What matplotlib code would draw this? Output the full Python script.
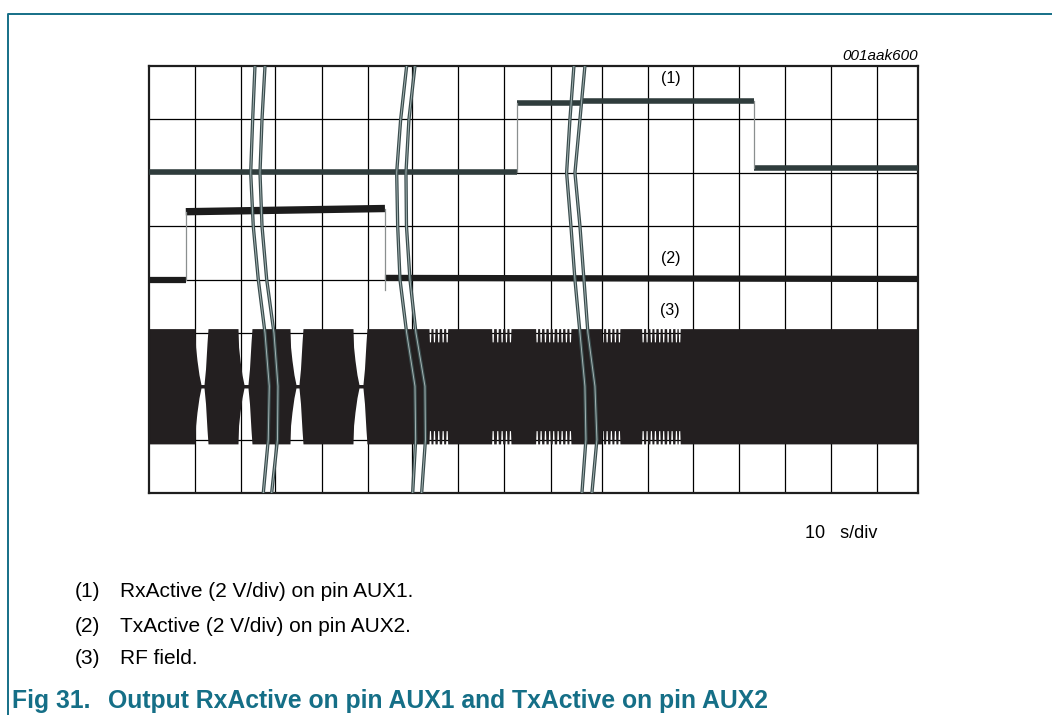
import numpy as np
import matplotlib
matplotlib.use('Agg')
import matplotlib.pyplot as plt
from matplotlib.lines import Line2D

plt.rcParams['font.family'] = ['Liberation Sans', 'DejaVu Sans']

W, H = 1052, 715

# --- grille (en divisions horizontales / verticales) ---
GRID_X = [1.0, 2.0, 2.739, 3.761, 4.761, 5.717, 6.717, 7.717, 8.739,
          9.848, 10.848, 11.826, 12.826, 13.826, 14.826, 15.826]
GRID_Y = [1, 2, 3, 4, 5, 6, 7]
X_MAX = 16.72
Y_MAX = 8

# --- trace (1) RxActive : segments (debut, fin, niveau) ---
RX_SEG = [(0.0, 8.0, 6.02), (8.0, 9.4, 7.31), (9.4, 13.15, 7.35), (13.15, X_MAX, 6.09)]
RX_EDGES = [(8.0, 6.02, 7.31), (13.15, 7.35, 6.09)]

# --- trace (2) TxActive ---
TX_SEG = [(0.0, 0.80, 4.00, 4.00), (0.80, 5.13, 5.27, 5.33), (5.13, X_MAX, 4.03, 4.01)]
TX_EDGES = [(0.80, 4.00, 5.27), (5.13, 5.33, 3.80)]

# --- trace (3) champ RF ---
RF_CENTER = 2.0
RF_AMP = 1.08
RF_GAPS = [(1.0, 1.283), (1.935, 2.239), (3.065, 3.348), (4.435, 4.739)]
NOTCH_X = [6.109, 6.196, 6.289, 6.385, 6.472,
           7.472, 7.572, 7.667, 7.761, 7.848,
           8.428, 8.515, 8.609, 8.702, 8.789, 8.885, 8.972, 9.065, 9.152,
           9.863, 9.950, 10.043, 10.130, 10.217,
           10.733, 10.820, 10.913, 11.0, 11.093, 11.180, 11.276, 11.363, 11.457, 11.528]
NOTCH_DEPTH = 0.77

# --- marques de coupure (paires de courbes) ---
BREAK_Y = [8.0, 7.0, 6.0, 5.0, 4.0, 3.0, 2.0, 1.0, 0.0]
BREAKS = [
    ([2.304, 2.254, 2.211, 2.267, 2.376, 2.522, 2.615, 2.593, 2.485],
     [2.522, 2.457, 2.413, 2.457, 2.559, 2.717, 2.804, 2.793, 2.667]),
    ([5.602, 5.472, 5.385, 5.407, 5.457, 5.602, 5.783, 5.798, 5.733],
     [5.783, 5.652, 5.587, 5.598, 5.674, 5.804, 6.000, 6.011, 5.928]),
    ([9.239, 9.152, 9.080, 9.174, 9.261, 9.370, 9.478, 9.500, 9.413],
     [9.478, 9.370, 9.261, 9.370, 9.457, 9.543, 9.696, 9.739, 9.630]),
]

TEAL = '#156f87'
INK = '#231f20'


def fx(px):
    return px / W


def fy(py):
    return 1 - py / H


fig = plt.figure(figsize=(W / 100, H / 100), dpi=100)
fig.patch.set_facecolor('white')

# cadre teal (gauche + haut)
fig.add_artist(Line2D([fx(7.5), fx(7.5), 1.0], [0.0, fy(13.5), fy(13.5)],
                      color=TEAL, lw=1.4, transform=fig.transFigure))

ax = fig.add_axes([fx(149), fy(493), fx(918) - fx(149), fy(66) - fy(493)])
ax.set_xlim(0, X_MAX)
ax.set_ylim(0, Y_MAX)
for x in GRID_X:
    ax.axvline(x, color='black', lw=0.9, zorder=1)
for y in GRID_Y:
    ax.axhline(y, color='black', lw=0.9, zorder=1)
ax.set_xticks([])
ax.set_yticks([])
for sp in ax.spines.values():
    sp.set_linewidth(1.6)
    sp.set_color('#1e1e1e')

# enveloppe RF
px = 1 / 46
env_x = [0.0]
env_a = [1.0]
fall = [(0, 1.0), (0.6, 0.68), (2.0, 0.45), (4.0, 0.2), (6.0, 0.03)]
rise = [(-4.0, 0.03), (-2.5, 0.3), (-1.0, 0.75), (0, 1.0)]
for g0, g1 in RF_GAPS:
    for o, a in fall:
        env_x.append(g0 + o * px)
        env_a.append(a)
    for o, a in rise:
        env_x.append(g1 + o * px)
        env_a.append(a)
for n in NOTCH_X:
    env_x += [n - 0.022, n - 0.012, n + 0.012, n + 0.022]
    env_a += [1.0, NOTCH_DEPTH, NOTCH_DEPTH, 1.0]
env_x.append(X_MAX)
env_a.append(1.0)
order = np.argsort(env_x)
env_x = np.array(env_x)[order]
env_a = np.array(env_a)[order] * RF_AMP
ax.fill_between(env_x, RF_CENTER - env_a, RF_CENTER + env_a, color=INK, lw=0, zorder=2)

# traces logiques
for x0, x1, lvl in RX_SEG:
    ax.plot([x0, x1], [lvl, lvl], color='#2f3c3c', lw=4.0, solid_capstyle='butt', zorder=3)
for x, y0, y1 in RX_EDGES:
    ax.plot([x, x], [y0, y1], color='#8a8f8f', lw=0.9, zorder=3)
for x0, x1, l0, l1 in TX_SEG:
    lw = 5.3 if l0 > 5 else 4.5
    ax.plot([x0, x1], [l0, l1], color='#1c1c1c', lw=lw, solid_capstyle='butt', zorder=3)
for x, y0, y1 in TX_EDGES:
    ax.plot([x, x], [y0, y1], color='#8a8f8f', lw=0.9, zorder=3)

# marques de coupure
for left, right in BREAKS:
    for xs in (left, right):
        ax.plot(xs, BREAK_Y, color='#3a4c4d', lw=2.4, zorder=4, solid_joinstyle='round')
        ax.plot(xs, BREAK_Y, color='#a3b3b3', lw=0.7, zorder=5, solid_joinstyle='round')

# étiquettes dans le graphique
ax.text(fx(671), fy(78), '(1)', transform=fig.transFigure, ha='center', va='center', fontsize=11.5)
ax.text(fx(671), fy(259), '(2)', transform=fig.transFigure, ha='center', va='center', fontsize=11.5)
ax.text(fx(670), fy(311), '(3)', transform=fig.transFigure, ha='center', va='center', fontsize=11.5)

fig.text(fx(918), fy(60), '001aak600', ha='right', va='baseline', fontsize=11, style='italic')
fig.text(fx(805), fy(538), '10   s/div', ha='left', va='baseline', fontsize=13)

notes = [('(1)', 'RxActive (2 V/div) on pin AUX1.', 597),
         ('(2)', 'TxActive (2 V/div) on pin AUX2.', 632),
         ('(3)', 'RF field.', 664)]
for num, txt, base in notes:
    fig.text(fx(75), fy(base), num, ha='left', va='baseline', fontsize=15)
    fig.text(fx(120), fy(base), txt, ha='left', va='baseline', fontsize=15)

fig.text(fx(12), fy(708), 'Fig 31.', ha='left', va='baseline', fontsize=17.8,
         fontweight='bold', color=TEAL)
fig.text(fx(108), fy(708), 'Output RxActive on pin AUX1 and TxActive on pin AUX2', ha='left',
         va='baseline', fontsize=17.8, fontweight='bold', color=TEAL)

fig.savefig('out.png', dpi=100)
